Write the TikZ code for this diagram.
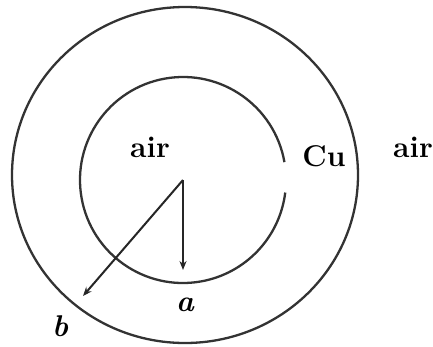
\documentclass[tikz,border=0pt]{standalone}
\usepackage{fontspec}
\usetikzlibrary{arrows.meta}
\tikzset{
  ring/.style={draw=black!80, line width=2.3pt},
  radius arrow/.style={draw=black!85, line width=2pt, -{Stealth[length=9pt,width=7pt]}},
  lbl/.style={font=\fontsize{30}{32}\selectfont\bfseries, inner sep=0pt},
  symlbl/.style={font=\fontsize{30}{32}\selectfont\bfseries\itshape, inner sep=0pt}
}
\begin{document}
\begin{tikzpicture}[x=1pt,y=-1pt]
\useasboundingbox (0,0) rectangle (433,346);
% outer circle
\draw[ring] (185,175) ellipse [x radius=173, y radius=168];
% inner circle with a small gap on the right
\coordinate (O) at (183,180);
\draw[ring] (O) ++(-10:103) arc[start angle=-10, end angle=-353, radius=103];
% radii
\coordinate (A) at (183,270);
\coordinate (B) at (83,296);
\draw[radius arrow] (O) -- (A);
\draw[radius arrow] (O) -- (B);
% labels
\node[lbl] (airin) at (150,147) {air};
\node[lbl] (cu) at (324,156) {Cu};
\node[lbl] (airout) at (413,147) {air};
\node[symlbl] (la) at (185,305) {a};
\node[symlbl] (lb) at (60,326) {b};
\end{tikzpicture}
\end{document}
